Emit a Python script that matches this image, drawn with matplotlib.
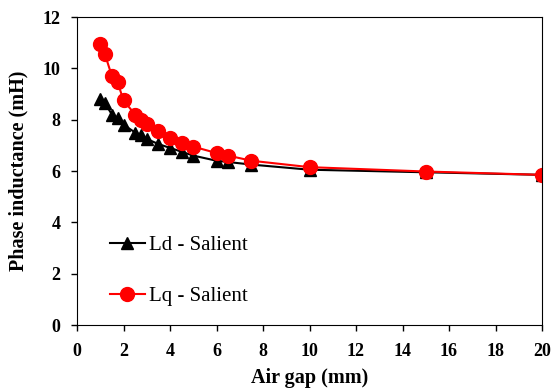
import matplotlib
matplotlib.use("Agg")
import matplotlib.pyplot as plt

air_gap = [1.0, 1.2, 1.5, 1.75, 2.0, 2.5, 2.75, 3.0, 3.5, 4.0, 4.5, 5.0, 6.0, 6.5, 7.5, 10, 15, 20]
ld_salient = [8.8, 8.65, 8.2, 8.05, 7.8, 7.5, 7.4, 7.25, 7.05, 6.9, 6.75, 6.6, 6.4, 6.35, 6.25, 6.05, 5.95, 5.85]
lq_salient = [10.95, 10.55, 9.7, 9.45, 8.75, 8.2, 8.0, 7.85, 7.55, 7.3, 7.1, 6.95, 6.7, 6.6, 6.4, 6.15, 5.98, 5.85]
x_ticks = [0, 2, 4, 6, 8, 10, 12, 14, 16, 18, 20]
y_ticks = [0, 2, 4, 6, 8, 10, 12]

plt.rcParams['font.family'] = ['Liberation Serif', 'DejaVu Serif']

fig = plt.figure(figsize=(5.53, 3.91), dpi=100)
ax = fig.add_axes([77/553, (391-325)/391, (542-77)/553, (325-17)/391])

ax.plot(air_gap, ld_salient, color='black', marker='^', markersize=9, linewidth=1.5,
        label='Ld - Salient')
ax.plot(air_gap, lq_salient, color='red', marker='o', markersize=10, linewidth=1.5,
        label='Lq - Salient')

ax.set_xlim(0, 20)
ax.set_ylim(0, 12)
ax.set_xticks(x_ticks)
ax.set_yticks(y_ticks)
ax.tick_params(direction='out', length=4, width=1, labelsize=13)
ax.tick_params(axis='x', pad=9)
ax.tick_params(axis='y', pad=8)
for lab in ax.get_xticklabels() + ax.get_yticklabels():
    lab.set_fontweight('bold')
for s in ax.spines.values():
    s.set_linewidth(0.8)

ax.set_xlabel('Air gap (mm)', fontsize=14.5, fontweight='bold', labelpad=6)
ax.set_ylabel('Phase inductance (mH)', fontsize=14.5, fontweight='bold', labelpad=10)

ax.legend(loc='lower left', bbox_to_anchor=(0.03, 0.0), frameon=False, fontsize=15,
          labelspacing=1.5, handlelength=1.7, handletextpad=0.2)

fig.savefig('out.png', dpi=100)
